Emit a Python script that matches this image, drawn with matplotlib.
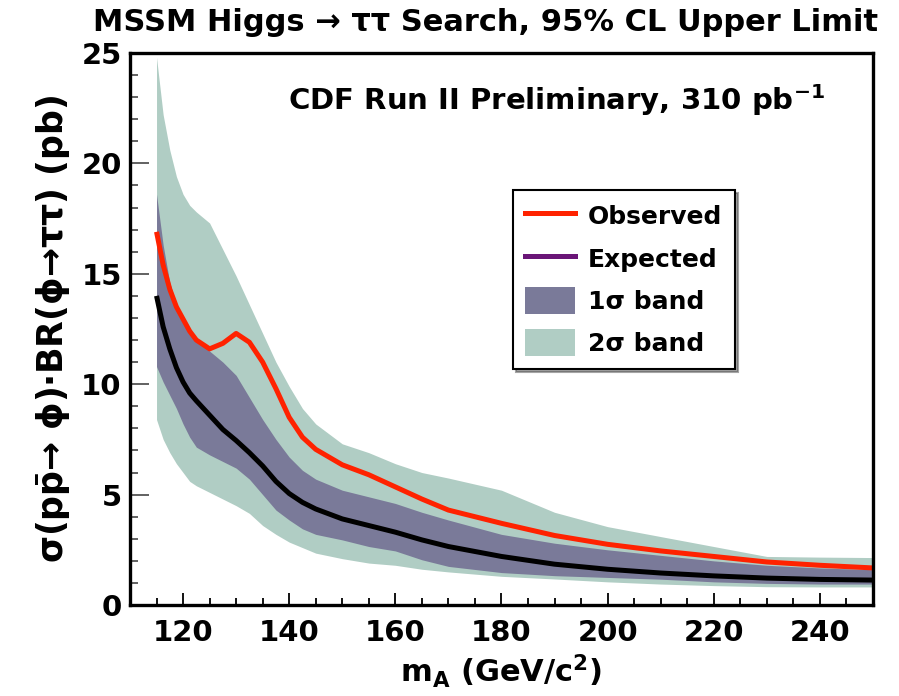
import numpy as np
import matplotlib
matplotlib.use("Agg")
import matplotlib.pyplot as plt
from matplotlib.lines import Line2D
from matplotlib.patches import Patch
from matplotlib.ticker import MultipleLocator

plt.rcParams['font.family'] = ['DejaVu Sans']
plt.rcParams['font.weight'] = 'bold'
plt.rcParams['axes.labelweight'] = 'bold'
plt.rcParams['mathtext.fontset'] = 'dejavusans'
plt.rcParams['mathtext.default'] = 'bf'

# Higgs mass points (GeV/c^2)
m_a = [115, 116.25, 117.5, 118.75, 120, 121.25, 122.5, 125, 127.5, 130, 132.5, 135,
       137.5, 140, 142.5, 145, 150, 155, 160, 165, 170, 180, 190, 200, 210, 220,
       230, 240, 250]

# 95% CL limits on sigma x BR (pb)
observed = [16.9, 15.4, 14.3, 13.5, 12.95, 12.4, 12.0, 11.6, 11.85, 12.3, 11.9, 11.0,
            9.8, 8.5, 7.6, 7.05, 6.35, 5.9, 5.35, 4.8, 4.3, 3.7, 3.15, 2.75, 2.45, 2.2,
            1.95, 1.8, 1.68]
expected = [14.0, 12.6, 11.6, 10.75, 10.1, 9.6, 9.25, 8.6, 7.95, 7.45, 6.9, 6.3,
            5.6, 5.05, 4.65, 4.35, 3.9, 3.6, 3.3, 2.95, 2.65, 2.2, 1.85, 1.62, 1.45, 1.32,
            1.22, 1.16, 1.13]
band1_hi = [18.6, 16.3, 14.6, 13.6, 13.0, 12.5, 12.0, 11.5, 11.0, 10.4, 9.4, 8.4,
            7.5, 6.7, 6.1, 5.7, 5.2, 4.9, 4.6, 4.2, 3.85, 3.2, 2.8, 2.5, 2.25, 2.0,
            1.8, 1.68, 1.6]
band1_lo = [10.8, 10.1, 9.5, 8.9, 8.2, 7.6, 7.15, 6.8, 6.5, 6.2, 5.7, 5.0,
            4.3, 3.85, 3.45, 3.2, 2.95, 2.65, 2.45, 2.05, 1.75, 1.47, 1.33, 1.25, 1.17, 1.05,
            0.98, 0.95, 0.95]
band2_hi = [24.8, 22.2, 20.6, 19.4, 18.6, 18.1, 17.8, 17.3, 16.1, 14.9, 13.6, 12.3,
            11.0, 9.9, 8.9, 8.2, 7.3, 6.9, 6.4, 6.0, 5.75, 5.2, 4.2, 3.55, 3.1, 2.65,
            2.2, 2.17, 2.15]
band2_lo = [8.4, 7.5, 6.9, 6.4, 6.0, 5.6, 5.4, 5.1, 4.8, 4.5, 4.15, 3.6,
            3.2, 2.85, 2.6, 2.35, 2.1, 1.9, 1.8, 1.62, 1.5, 1.3, 1.18, 1.05, 0.95, 0.88,
            0.83, 0.82, 0.82]

green = '#b0cdc4'
purple = '#7a7a99'
red = '#ff2200'

fig = plt.figure(figsize=(8.99, 6.96), dpi=100)
ax = fig.add_axes([0.1446, 0.1307, 0.8264, 0.7932])

ax.fill_between(m_a, band2_lo, band2_hi, color=green, lw=0)
ax.fill_between(m_a, band1_lo, band1_hi, color=purple, lw=0)
ax.plot(m_a, expected, color='black', lw=3.6, solid_capstyle='butt')
ax.plot(m_a, observed, color=red, lw=3.6, solid_capstyle='butt')

ax.set_xlim(110, 250)
ax.set_ylim(0, 25)
ax.xaxis.set_major_locator(MultipleLocator(20))
ax.xaxis.set_minor_locator(MultipleLocator(5))
ax.yaxis.set_major_locator(MultipleLocator(5))
ax.yaxis.set_minor_locator(MultipleLocator(1))
ax.tick_params(axis='both', which='both', direction='in', labelsize=21, width=1.3)
ax.tick_params(axis='x', which='major', length=9, pad=10)
ax.tick_params(axis='x', which='minor', length=5)
ax.tick_params(axis='y', which='major', length=14, color='#555555', pad=6)
ax.tick_params(axis='y', which='minor', length=6, color='#555555')
for s in ax.spines.values():
    s.set_linewidth(2.4)

ax.set_xlabel(r'$m_{A}$ (GeV/c$^{2}$)', fontsize=22, labelpad=4)
ax.set_ylabel('\u03c3(p$\\bar{p}$\u2192 \u03d5)\u00b7BR(\u03d5\u2192\u03c4\u03c4) (pb)',
              fontsize=25, labelpad=6)

fig.text(0.54, 0.968, 'MSSM Higgs \u2192 \u03c4\u03c4 Search, 95% CL Upper Limit',
         ha='center', va='center', fontsize=22, fontweight='bold')
ax.text(0.935, 0.915, r'CDF Run II Preliminary, 310 pb$^{-1}$', transform=ax.transAxes,
        ha='right', va='center', fontsize=21, fontweight='bold')

handles = [Line2D([], [], color=red, lw=3.6),
           Line2D([], [], color='#6a1577', lw=3.6),
           Patch(facecolor=purple, edgecolor='none'),
           Patch(facecolor=green, edgecolor='none')]
labels = ['Observed', 'Expected', '1\u03c3 band', '2\u03c3 band']
leg = ax.legend(handles, labels, loc='upper left', bbox_to_anchor=(0.5155, 0.752),
                fontsize=18, frameon=True, fancybox=False, shadow=True,
                edgecolor='black', handlelength=2.0, handleheight=1.3,
                labelspacing=0.6, borderpad=0.5, handletextpad=0.5, borderaxespad=0)
leg.get_frame().set_linewidth(1.5)

fig.savefig('out.png', dpi=100, facecolor='white')
